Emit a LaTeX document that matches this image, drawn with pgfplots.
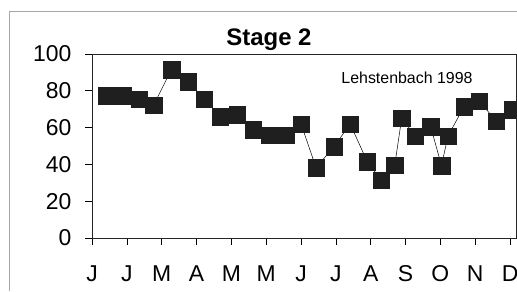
\documentclass[border=0pt]{standalone}
\usepackage{fontspec}
\setmainfont{Liberation Sans}
\usepackage{pgfplots}
\pgfplotsset{compat=1.18}
\begin{document}
\begin{tikzpicture}[x=1bp,y=1bp]
\useasboundingbox (0,0) rectangle (517,291);
\draw[gray!70, line width=0.8bp] (9,0) -- (9,280) -- (517,280);
\begin{axis}[at={(92bp,53bp)}, anchor=south west, scale only axis,
  width=424bp, height=184bp,
  xmin=0, xmax=12.17, ymin=0, ymax=100,
  xtick={0,...,12}, xticklabels={J,J,M,A,M,M,J,J,A,S,O,N,D},
  ytick={0,20,...,100},
  xtick pos=bottom, ytick pos=left,
  tick align=outside, major tick length=7bp,
  tick style={black, line width=0.6bp},
  /pgf/number format/assume math mode=true,
  ticklabel style={font=\fontsize{23}{23}\selectfont},
  yticklabel style={xshift=-10bp},
  xticklabel style={yshift=-17bp},
  axis line style={black!85, line width=0.8bp},
]
\addplot[black, line width=0.5bp, mark=square*, mark size=8.25bp,
  mark options={fill=black!88, draw=black!88, line width=0.1bp}] coordinates {
(0.40,77.4) (0.89,77.4) (1.35,75.5) (1.77,72.3) (2.28,91.6) (2.76,85.0)
(3.22,75.5) (3.67,66.0) (4.16,67.0) (4.62,59.0) (5.08,56.0) (5.57,56.0)
(6.00,62.0) (6.43,38.3) (6.95,49.7) (7.41,62.0) (7.90,41.5) (8.30,31.5)
(8.69,39.7) (8.89,65.2) (9.27,55.5) (9.72,60.6) (10.03,39.4) (10.22,55.5)
(10.68,71.5) (11.11,74.5) (11.60,63.6) (12.06,69.8)
};
\end{axis}
\node[font=\bfseries\fontsize{24}{24}\selectfont, anchor=base] at (269,246) {Stage 2};
\node[font=\fontsize{16}{16}\selectfont, anchor=base] at (407,208) {Lehstenbach 1998};
\end{tikzpicture}
\end{document}
